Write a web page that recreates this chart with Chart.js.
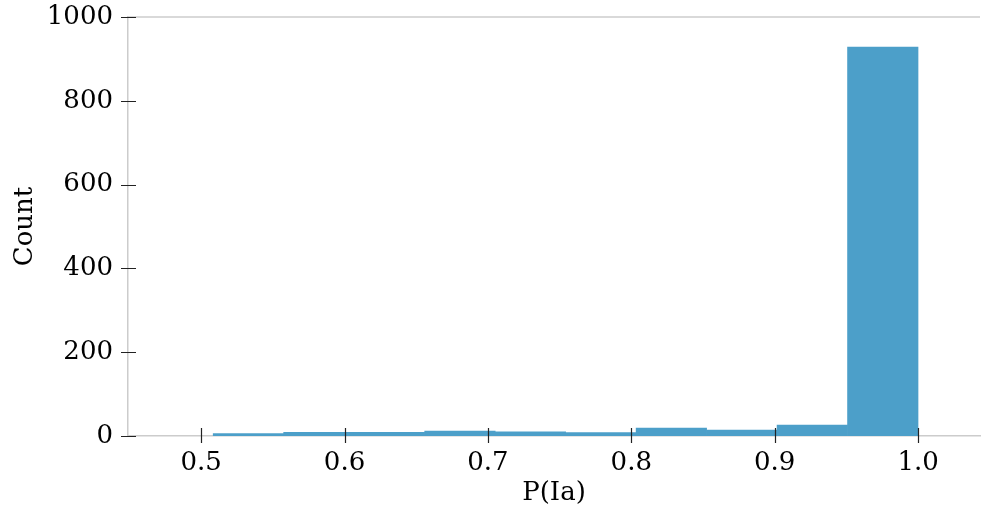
<!DOCTYPE html>
<html>
<head>
<meta charset="utf-8">
<script src="https://cdn.jsdelivr.net/npm/chart.js@4"></script>
<style>
  html, body { margin: 0; padding: 0; background: #fff; }
  #wrap { width: 981px; height: 509px; }
</style>
</head>
<body>
<div id="wrap"><canvas id="hist"></canvas></div>
<script>
// histogram of P(Ia): 10 bins from ~0.508 to 1.0
const binEdges = [0.5084, 0.5576, 0.6067, 0.6559, 0.7051, 0.7542, 0.8034, 0.8525, 0.9017, 0.9508, 1.0];
const counts = [6, 9, 9, 12, 10, 8, 19, 14, 26, 928];
const xTicks = [0.5, 0.6, 0.7, 0.8, 0.9, 1.0];
const yTicks = [0, 200, 400, 600, 800, 1000];

const points = counts.map((c, i) => ({ x: (binEdges[i] + binEdges[i + 1]) / 2, y: c }));

const font = { family: '"DejaVu Serif", serif', size: 26 };

// ticks that cross the axis line, plus the top spine
const spines = {
  id: 'spines',
  afterDraw(chart) {
    const { ctx, chartArea, scales } = chart;
    ctx.save();
    ctx.strokeStyle = '#cccccc';
    ctx.lineWidth = 1.5;
    ctx.beginPath();
    ctx.moveTo(chartArea.left, chartArea.top);
    ctx.lineTo(chartArea.right, chartArea.top);
    ctx.stroke();
    ctx.strokeStyle = '#222';
    ctx.lineWidth = 1.2;
    ctx.beginPath();
    xTicks.forEach(v => {
      const px = Math.round(scales.x.getPixelForValue(v)) + 0.5;
      ctx.moveTo(px, chartArea.bottom - 8);
      ctx.lineTo(px, chartArea.bottom + 7);
    });
    yTicks.forEach(v => {
      const py = Math.round(scales.y.getPixelForValue(v)) + 0.5;
      ctx.moveTo(chartArea.left - 7, py);
      ctx.lineTo(chartArea.left + 8, py);
    });
    ctx.stroke();
    ctx.restore();
  }
};

new Chart(document.getElementById('hist'), {
  type: 'bar',
  data: {
    datasets: [{
      data: points,
      backgroundColor: '#4c9fc9',
      borderWidth: 0,
      barPercentage: 1.0,
      categoryPercentage: 1.0
    }]
  },
  options: {
    responsive: true,
    maintainAspectRatio: false,
    animation: false,
    layout: { padding: { top: 17, right: 1, left: 0, bottom: 0 } },
    plugins: { legend: { display: false }, tooltip: { enabled: false } },
    scales: {
      x: {
        type: 'linear',
        offset: false,
        min: 0.449,
        max: 1.0432,
        afterBuildTicks: s => { s.ticks = xTicks.map(v => ({ value: v })); },
        afterFit: s => { s.height = 73; s.paddingLeft = 0; s.paddingRight = 0; },
        grid: { display: false },
        border: { display: true, color: '#cccccc', width: 1.5 },
        ticks: { color: '#000', font, padding: 4, maxRotation: 0, callback: v => v.toFixed(1) },
        title: { display: true, text: 'P(Ia)', color: '#000', font, padding: { top: 2, bottom: 0 } }
      },
      y: {
        min: 0,
        max: 1000,
        afterBuildTicks: s => { s.ticks = yTicks.map(v => ({ value: v })); },
        afterFit: s => { s.width = 128; s.paddingTop = 0; s.paddingBottom = 0; },
        grid: { display: false },
        border: { display: true, color: '#cccccc', width: 1.5 },
        ticks: { color: '#000', font, padding: 7, callback: v => String(v) },
        title: { display: true, text: 'Count', color: '#000', font, padding: { top: 10, bottom: 0 } }
      }
    }
  },
  plugins: [spines]
});
</script>
</body>
</html>
